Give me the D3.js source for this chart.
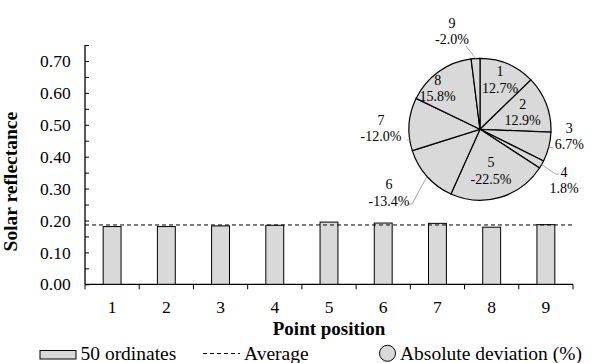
<!DOCTYPE html>
<html>
<head>
<meta charset="utf-8">
<script src="https://cdn.jsdelivr.net/npm/d3@7"></script>
<style>
  body { margin: 0; background: #fff; }
  svg { display: block; }
  svg text { font-family: "Liberation Serif", "Times New Roman", serif !important; fill: #000; }
</style>
</head>
<body>
<svg id="chart" width="593" height="363"></svg>
<script>
// ---- data ----
const positions = ["1", "2", "3", "4", "5", "6", "7", "8", "9"];
const reflectance = [0.181, 0.181, 0.183, 0.185, 0.195, 0.192, 0.191, 0.179, 0.187];
const average = 0.186;
const deviationPct = [12.7, 12.9, 6.7, 1.8, -22.5, -13.4, -12.0, 15.8, -2.0];
const yMajorTicks = [0, 0.1, 0.2, 0.3, 0.4, 0.5, 0.6, 0.7];
const yMinorTicks = [0.05, 0.15, 0.25, 0.35, 0.45, 0.55, 0.65, 0.75];
const legendLabels = ["50 ordinates", "Average", "Absolute deviation (%)"];

// ---- layout ----
const plot = { left: 85, right: 573, top: 45, bottom: 284.3 };
const pieCenter = [480, 129.3];
const pieRadius = 71;
// label block centres relative to the pie centre
const pieLabelOffset = [
  [20, -49.5], [42.7, -17], [89.3, 7], [84, 51], [11, 41.7],
  [-91, 63.5], [-99, -1], [-42.3, -41], [-28, -98]
];
// leader lines for labels drawn outside the pie (points relative to pie centre)
const leaderEnds = {
  2: [[73, 18.7]],
  3: [[75.5, 44.7], [79, 44.7]],
  5: [[-68, 74.7], [-71, 74.7]],
  8: [[-14, -83.3]]
};
const leaderFree = [[[-73, 10.7], [-70.2, 10.7]]];

const fill = "#d9d9d9";
const serif = "'Liberation Serif', 'Times New Roman', serif";
const svg = d3.select("#chart");
const fmtPct = v => (v < 0 ? "-" : "") + Math.abs(v).toFixed(1) + "%";

// ---- scales ----
const x = d3.scaleBand().domain(positions).range([plot.left, plot.right])
  .paddingInner(0.67).paddingOuter(0.335);
const y = d3.scaleLinear().domain([0, 0.75]).range([plot.bottom, plot.top]);

// ---- y axis ----
const yAxis = svg.append("g").attr("transform", `translate(${plot.left},0)`)
  .call(d3.axisLeft(y).tickValues(yMajorTicks).tickFormat(d3.format(".2f"))
    .tickSize(5).tickSizeOuter(0).tickPadding(9.3));
yAxis.attr("font-family", null).attr("font-size", null);
yAxis.select(".domain").remove();
yAxis.selectAll(".tick line").attr("x2", 4).attr("stroke", "#000");
yAxis.selectAll(".tick text").style("font-size", "17.5px");
svg.append("g").attr("transform", `translate(${plot.left},0)`)
  .call(d3.axisRight(y).tickValues(yMinorTicks).tickSize(4).tickFormat(""))
  .call(g => g.select(".domain").remove())
  .selectAll(".tick line").attr("stroke", "#000");
svg.append("line").attr("x1", plot.left).attr("x2", plot.left)
  .attr("y1", y(0.75)).attr("y2", y(0)).attr("stroke", "#000").attr("stroke-width", 1.3);

// ---- x axis ----
const xAxis = svg.append("g").attr("transform", `translate(0,${y(0)})`)
  .call(d3.axisBottom(x).tickSize(0).tickPadding(16.5));
xAxis.attr("font-family", null).attr("font-size", null);
xAxis.select(".domain").remove();
xAxis.selectAll(".tick text").style("font-size", "17.5px");
const step = x.step();
svg.append("g").selectAll("line")
  .data(d3.range(positions.length + 1))
  .join("line")
  .attr("x1", i => plot.left + i * step).attr("x2", i => plot.left + i * step)
  .attr("y1", y(0)).attr("y2", y(0) + 5).attr("stroke", "#000");
svg.append("line").attr("x1", plot.left).attr("x2", plot.right)
  .attr("y1", y(0)).attr("y2", y(0)).attr("stroke", "#000").attr("stroke-width", 1.3);

// ---- bars ----
svg.append("g").selectAll("rect")
  .data(positions.map((p, i) => ({ p, v: reflectance[i] })))
  .join("rect")
  .attr("x", d => x(d.p)).attr("width", x.bandwidth())
  .attr("y", d => y(d.v)).attr("height", d => y(0) - y(d.v))
  .attr("fill", fill).attr("stroke", "#000").attr("stroke-width", 1);

// ---- average line ----
svg.append("line").attr("x1", plot.left).attr("x2", plot.right)
  .attr("y1", y(average)).attr("y2", y(average))
  .attr("stroke", "#000").attr("stroke-width", 1).attr("stroke-dasharray", "4,3");

// ---- axis titles ----
svg.append("text").attr("x", (plot.left + plot.right) / 2).attr("y", 334.5)
  .attr("text-anchor", "middle").style("font-size", "19px").attr("font-weight", "bold")
  .text("Point position");
svg.append("text").attr("transform", `translate(17,${(plot.top + plot.bottom) / 2 + 17}) rotate(-90)`)
  .attr("text-anchor", "middle").style("font-size", "19.5px").attr("font-weight", "bold")
  .text("Solar reflectance");

// ---- pie of absolute deviation ----
const pie = d3.pie().sort(null).value(d => Math.abs(d.v));
const arcs = pie(positions.map((p, i) => ({ p, v: deviationPct[i] })));
const arc = d3.arc().innerRadius(0).outerRadius(pieRadius);
const pg = svg.append("g").attr("transform", `translate(${pieCenter[0]},${pieCenter[1]})`);
pg.selectAll("path.slice").data(arcs).join("path").attr("class", "slice")
  .attr("d", arc).attr("fill", fill).attr("stroke", "#000").attr("stroke-width", 1.2);

// leader lines start on the rim at each slice's mid angle
const leaders = Object.entries(leaderEnds).map(([i, pts]) => {
  const a = arcs[+i];
  const mid = (a.startAngle + a.endAngle) / 2;
  return [[pieRadius * Math.sin(mid), -pieRadius * Math.cos(mid)], ...pts];
}).concat(leaderFree);
pg.selectAll("path.leader").data(leaders).join("path").attr("class", "leader")
  .attr("d", d3.line()).attr("fill", "none").attr("stroke", "#a6a6a6").attr("stroke-width", 1);

const lbl = pg.selectAll("g.lbl").data(arcs).join("g").attr("class", "lbl")
  .attr("transform", (d, i) => `translate(${pieLabelOffset[i][0]},${pieLabelOffset[i][1]})`);
lbl.append("text").attr("text-anchor", "middle").style("font-size", "14px").attr("y", -3.6)
  .text(d => d.data.p);
lbl.append("text").attr("text-anchor", "middle").style("font-size", "14px").attr("y", 13.2)
  .text(d => fmtPct(d.data.v));

// ---- legend ----
const lg = svg.append("g");
lg.append("rect").attr("x", 40).attr("y", 350.5).attr("width", 36).attr("height", 8.5)
  .attr("fill", fill).attr("stroke", "#000").attr("stroke-width", 1);
lg.append("text").attr("x", 80.5).attr("y", 359.5).style("font-size", "19.5px").text(legendLabels[0]);
lg.append("line").attr("x1", 203).attr("x2", 240).attr("y1", 353.5).attr("y2", 353.5)
  .attr("stroke", "#000").attr("stroke-width", 1).attr("stroke-dasharray", "4,3");
lg.append("text").attr("x", 244).attr("y", 359.5).style("font-size", "19.5px").text(legendLabels[1]);
lg.append("circle").attr("cx", 387.5).attr("cy", 353.3).attr("r", 8)
  .attr("fill", fill).attr("stroke", "#000").attr("stroke-width", 1);
lg.append("text").attr("x", 400).attr("y", 359.5).style("font-size", "19.5px").text(legendLabels[2]);
</script>
</body>
</html>
